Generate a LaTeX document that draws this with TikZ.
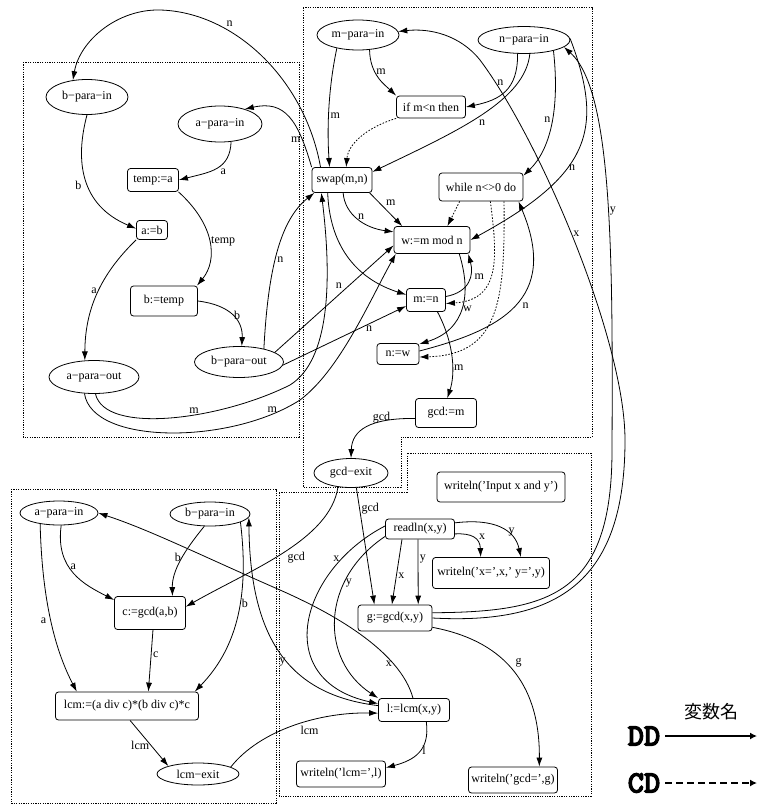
\documentclass[tikz,border=0pt]{standalone}
\usepackage{fontspec}
\setmainfont{Liberation Serif}
\newfontfamily\cjk{Noto Sans CJK JP}
\newfontfamily\legfont[FakeBold=3.5]{lmmonolt10-bold.otf}
\usetikzlibrary{arrows.meta,shapes.geometric}
\begin{document}
\begin{tikzpicture}[x=1pt,y=-1pt,every node/.style={font=\fontsize{12}{14}\selectfont},
box/.style 2 args={draw,rounded corners=3pt,line width=0.8pt,inner sep=1pt,minimum width=#1pt,minimum height=#2pt},
para/.style 2 args={draw,ellipse,line width=0.8pt,inner sep=0pt,minimum width=#1pt,minimum height=#2pt},
dd/.style={-{Latex[length=9pt,width=6pt]},line width=0.8pt},
cd/.style={dd,dash pattern=on 1.6pt off 1.6pt},
lbl/.style={inner sep=1.5pt},
region/.style={line width=0.8pt,dash pattern=on 1.2pt off 1.2pt},
legarrow/.style={-{Latex[length=7pt,width=7pt]},line width=2.8pt},
legtext/.style={font=\legfont\fontsize{31}{33}\selectfont,inner xsep=5pt}]
\useasboundingbox (0,0) rectangle (757,806);
\draw[region] (23,62) rectangle (299,437);
\draw[region] (303,7) -- (592,7) -- (592,437) -- (401,437) -- (401,487) -- (303,487) -- cycle;
\draw[region] (11,489) rectangle (276,803);
\draw[region] (279,492) -- (407,492) -- (407,453) -- (591,453) -- (591,796) -- (279,796) -- cycle;
\node[para={82}{35}] (bin1) at (87,97) {b−para−in};
\node[para={84}{36}] (ain1) at (220,124) {a−para−in};
\node[box={51}{23}] (tempa) at (153,180) {temp:=a};
\node[box={31}{19}] (ab) at (152,230) {a:=b};
\node[box={67}{30}] (btemp) at (164,301) {b:=temp};
\node[para={89}{31}] (bout) at (239,362) {b−para−out};
\node[para={90}{33}] (aout) at (94,377) {a−para−out};
\node[para={82}{30}] (min) at (358,35) {m−para−in};
\node[para={92}{27}] (nin) at (524,40) {n−para−in};
\node[box={69}{22}] (ifmn) at (431,107) {if m<n then};
\node[box={60}{25}] (swap) at (342,180) {swap(m,n)};
\node[box={84}{28}] (while) at (481,187) {while n<>0 do};
\node[box={76}{27}] (wmod) at (432,240) {w:=m mod n};
\node[box={39}{23}] (mn) at (426,300) {m:=n};
\node[box={42}{21}] (nw) at (398,354) {n:=w};
\node[box={61}{29}] (gcdm) at (446,413) {gcd:=m};
\node[para={74}{29}] (gexit) at (351,473) {gcd−exit};
\node[para={78}{24}] (ain2) at (59,513) {a−para−in};
\node[para={80}{24}] (bin2) at (210,514) {b−para−in};
\node[box={71}{33}] (cgcd) at (150,613) {c:=gcd(a,b)};
\node[box={143}{28}] (lcmexpr) at (127,706) {lcm:=(a div c)*(b div c)*c};
\node[para={82}{22}] (lexit) at (198,774) {lcm−exit};
\node[box={128}{30}] (winput) at (501,487) {writeln('Input x and y')};
\node[box={69}{20}] (readln) at (420,529) {readln(x,y)};
\node[box={117}{31}] (wxy) at (491,573) {writeln('x=',x,' y=',y)};
\node[box={74}{26}] (ggcd) at (395,618) {g:=gcd(x,y)};
\node[box={71}{23}] (llcm) at (414,710) {l:=lcm(x,y)};
\node[box={89}{26}] (wlcm) at (341,774) {writeln('lcm=',l)};
\node[box={89}{26}] (wgcd) at (513,780) {writeln('gcd=',g)};
\draw[dd] (swap.149) .. controls (305,80) and (235,12) .. (160,10) node[lbl,pos=0.7,above right]{n} .. controls (118,9) and (80,40) .. (bin1.130);
\draw[dd] (swap.north west) .. controls (298,120) and (285,100) .. (ain1.31) node[lbl,pos=0.22,left]{m};
\draw[dd] (bin1.south) .. controls (75,160) and (80,205) .. (ab.175) node[lbl,pos=0.55,left=5pt]{b};
\draw[dd] (ain1.-58) .. controls (230,170) and (210,172) .. (tempa.east) node[lbl,pos=0.45,below right]{a};
\draw[dd] (tempa.-25) .. controls (215,225) and (218,260) .. (btemp.25) node[lbl,pos=0.5,right]{temp};
\draw[dd] (ab.south west) .. controls (100,275) and (85,310) .. (aout.119) node[lbl,pos=0.47,left]{a};
\draw[dd] (btemp.east) .. controls (230,305) and (243,320) .. (bout.80) node[lbl,pos=0.5,right]{b};
\draw[dd] (bout.28) .. controls (268,270) and (280,220) .. (swap.-155) node[lbl,pos=0.45,right]{n};
\draw[dd] (aout.-85) .. controls (105,435) and (220,420) .. (290,385) node[lbl,pos=0.6,above]{m} .. controls (330,360) and (332,280) .. (swap.-148);
\draw[dd] (aout.-120) .. controls (92,445) and (230,445) .. (300,400) node[lbl,pos=0.88,above]{m} .. controls (340,370) and (370,300) .. (wmod.-159);
\draw[dd] (bout.15) -- (wmod.-172) node[lbl,pos=0.58,above left=0pt]{n};
\draw[dd] (bout.-4) -- (mn.197) node[lbl,pos=0.7,below]{n};
\draw[dd] (swap.-25) -- (wmod.155) node[lbl,pos=0.45,above right]{m};
\draw[dd] (swap.-85) .. controls (345,215) and (365,228) .. (wmod.168) node[lbl,pos=0.55,above]{n};
\draw[dd] (swap.-138) .. controls (330,250) and (360,280) .. (mn.165);
\draw[dd] (min.212) .. controls (328,90) and (327,130) .. (swap.134) node[lbl,pos=0.55,right]{m};
\draw[dd] (min.-52) .. controls (370,75) and (385,85) .. (ifmn.north west) node[lbl,pos=0.35,right]{m};
\draw[dd] (nin.245) .. controls (518,90) and (500,100) .. (ifmn.east) node[lbl,pos=0.35,left=6pt]{n};
\draw[dd] (nin.-67) .. controls (525,100) and (460,130) .. (swap.15) node[lbl,pos=0.5,below=3pt]{n};
\draw[dd] (nin.-20) .. controls (560,110) and (550,150) .. (while.15) node[lbl,pos=0.45,left]{n};
\draw[dd] (nin.2) .. controls (605,130) and (590,175) .. (wmod.east) node[lbl,pos=0.6,right]{n};
\draw[cd] (ifmn.south west) .. controls (365,128) and (348,145) .. (swap.72);
\draw[cd] (while.214) -- (wmod.42);
\draw[cd] (while.-57) .. controls (498,260) and (500,300) .. (mn.-10);
\draw[cd] (while.-32) .. controls (505,300) and (500,355) .. (nw.-8);
\draw[dd] (nw.8) .. controls (500,330) and (560,300) .. (while.-21) node[lbl,pos=0.5,right=6pt]{n};
\draw[dd] (wmod.-27) .. controls (472,295) and (465,330) .. (nw.25) node[lbl,pos=0.5,right]{w};
\draw[dd] (mn.10) .. controls (470,292) and (474,275) .. (wmod.-21) node[lbl,pos=0.6,right=3pt]{m};
\draw[dd] (mn.-46) .. controls (455,345) and (455,375) .. (gcdm.85) node[lbl,pos=0.6,right]{m};
\draw[dd] (gcdm.190) .. controls (370,418) and (352,430) .. (gexit.north) node[lbl,pos=0.3,above=-3pt]{gcd};
\draw[dd] (gexit.-133) .. controls (330,540) and (250,570) .. (cgcd.10) node[lbl,pos=0.42,below=6pt]{gcd};
\draw[dd] (gexit.-70) -- (ggcd.147) node[lbl,pos=0.18,right]{gcd};
\draw[dd] (readln.-8) .. controls (472,533) and (480,538) .. (wxy.123) node[lbl,pos=0.65,above right]{x};
\draw[dd] (readln.10) .. controls (495,518) and (515,530) .. (wxy.28) node[lbl,pos=0.6,right]{y};
\draw[dd] (readln.210) -- (ggcd.103) node[lbl,pos=0.55,right]{x};
\draw[dd] (readln.-101) -- (ggcd.30) node[lbl,pos=0.3,right]{y};
\draw[dd] (readln.175) .. controls (300,570) and (270,680) .. (llcm.170) node[lbl,pos=0.2,left]{x};
\draw[dd] (readln.192) .. controls (320,580) and (320,660) .. (llcm.north west) node[lbl,pos=0.3,right]{y};
\draw[dd] (llcm.95) .. controls (400,650) and (330,612) .. (280,590) node[lbl,pos=0.25,left=0pt]{x} .. controls (200,555) and (150,530) .. (ain2.east);
\draw[dd] (llcm.173) .. controls (290,695) and (250,640) .. (bin2.-5) node[lbl,pos=0.45,left]{y};
\draw[dd] (lexit.12) .. controls (260,730) and (320,712) .. (llcm.185) node[lbl,pos=0.6,below=3pt]{lcm};
\draw[dd] (llcm.-44) .. controls (430,750) and (415,760) .. (wlcm.8) node[lbl,pos=0.45,right]{l};
\draw[dd] (ggcd.-14) .. controls (500,640) and (540,680) .. (wgcd.27) node[lbl,pos=0.45,right=8pt]{g};
\draw[dd] (ggcd.8) .. controls (550,612) and (612,595) .. (612,450) .. controls (613,250) and (612,90) .. (nin.-10) node[lbl,pos=0.45,right]{y};
\draw[dd] (ggcd.east) .. controls (560,625) and (625,580) .. (625,440) .. controls (625,340) and (540,140) .. (480,60) node[lbl,pos=0.52,right=0pt]{x} .. controls (460,35) and (430,28) .. (min.5);
\draw[dd] (ain2.-80) .. controls (55,570) and (85,585) .. (cgcd.160) node[lbl,pos=0.4,right]{a};
\draw[dd] (ain2.-150) .. controls (42,600) and (55,650) .. (lcmexpr.164) node[lbl,pos=0.5,left=3pt]{a};
\draw[dd] (bin2.-115) .. controls (185,550) and (172,570) .. (cgcd.37) node[lbl,pos=0.45,left]{b};
\draw[dd] (bin2.-15) .. controls (250,600) and (235,650) .. (lcmexpr.12) node[lbl,pos=0.4,right]{b};
\draw[dd] (cgcd.-80) -- (lcmexpr.34) node[lbl,pos=0.4,right]{c};
\draw[dd] (lcmexpr.-78) -- (lexit.165) node[lbl,pos=0.55,left]{lcm};
\node[legtext] (ddlab) at (644,736) {DD};
\node[legtext] (cdlab) at (644,783) {CD};
\coordinate (ddend) at (757,736);
\coordinate (cdend) at (757,783);
\draw[legarrow] (ddlab) -- (ddend) node[pos=0.5,above=11pt,font=\cjk\fontsize{18}{20}\selectfont]{変数名};
\draw[legarrow,dash pattern=on 7pt off 4pt] (cdlab) -- (cdend);
\end{tikzpicture}
\end{document}
